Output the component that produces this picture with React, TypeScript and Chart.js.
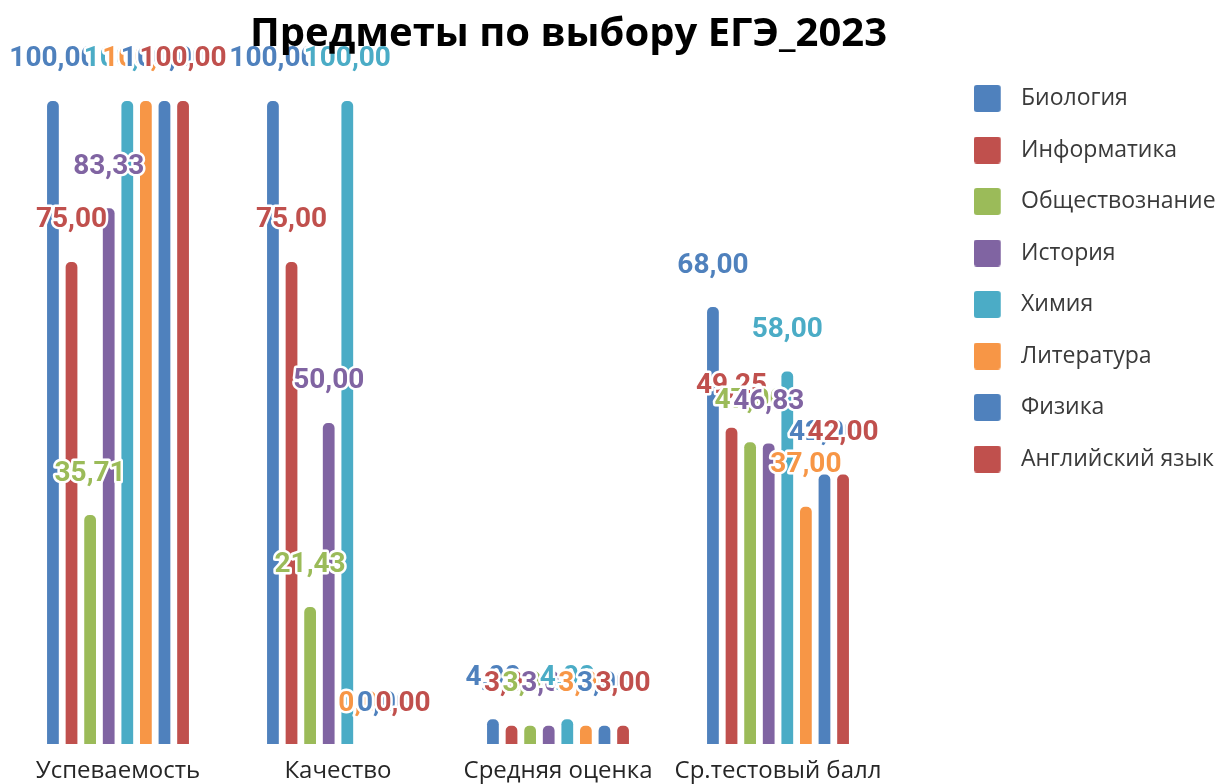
import { useEffect, useRef } from 'react';
import { Chart, registerables } from 'chart.js';

Chart.register(...registerables);

const titleText = 'Предметы по выбору ЕГЭ_2023';
const categories = ['Успеваемость', 'Качество', 'Средняя оценка', 'Ср.тестовый балл'];
const seriesNames = ['Биология', 'Информатика', 'Обществознание', 'История', 'Химия', 'Литература', 'Физика', 'Английский язык'];
const seriesColors = ['#4F81BD', '#C0504D', '#9BBB59', '#8064A2', '#4BACC6', '#F79646', '#4F81BD', '#C0504D'];

const biology = [100, 100, 4, 68];
const informatics = [75, 75, 3, 49.25];
const socialStudies = [35.71, 21.43, 3, 47];
const history = [83.33, 50, 3, 46.83];
const chemistry = [100, 100, 4, 58];
const literature = [100, 0, 3, 37];
const physics = [100, 0, 3, 42];
const english = [100, 0, 3, 42];

const seriesValues = [biology, informatics, socialStudies, history, chemistry, literature, physics, english];

function makeSwatch(color: string) {
  const c = document.createElement('canvas');
  c.width = 36;
  c.height = 27;
  const g = c.getContext('2d')!;
  g.fillStyle = color;
  g.beginPath();
  (g as any).roundRect(0, 0, 27, 27, 3);
  g.fill();
  return c;
}

const fmt = (v: number) => v.toFixed(2).replace('.', ',');

const labelPlugin = {
  id: 'valueLabels',
  afterDatasetsDraw(chart: any) {
    const ctx = chart.ctx;
    ctx.save();
    ctx.font = 'bold 28px Roboto, "Open Sans", sans-serif';
    ctx.textAlign = 'center';
    ctx.textBaseline = 'middle';
    ctx.lineJoin = 'round';
    chart.data.datasets.forEach((ds: any, i: number) => {
      const meta = chart.getDatasetMeta(i);
      meta.data.forEach((el: any, j: number) => {
        const text = fmt(ds.data[j]);
        const y = el.y - 40.5;
        ctx.lineWidth = 5;
        ctx.strokeStyle = '#ffffff';
        ctx.strokeText(text, el.x, y);
        ctx.fillStyle = seriesColors[i];
        ctx.fillText(text, el.x, y);
      });
    });
    ctx.restore();
  },
};

const titlePlugin = {
  id: 'customTitle',
  afterDraw(chart: any) {
    const ctx = chart.ctx;
    ctx.save();
    ctx.font = 'bold 40px "Open Sans", sans-serif';
    ctx.fillStyle = '#000000';
    ctx.textAlign = 'center';
    ctx.textBaseline = 'alphabetic';
    ctx.fillText(titleText, 568.5, 46);
    ctx.restore();
  },
};

export default function App() {
  const ref = useRef<HTMLCanvasElement>(null);
  useEffect(() => {
    document.body.style.margin = '0';
    const canvas = ref.current!;
    const fs = 23;
    const legendFamily = '"Open Sans", sans-serif';
    const m = document.createElement('canvas').getContext('2d')!;
    m.font = `normal normal ${fs}px ${legendFamily}`;
    const maxTW = Math.max(...seriesNames.map((n) => m.measureText(n).width));
    const legendPad = 28.5;
    const boxW = 35.5;
    const W = legendPad + boxW + fs / 2 + maxTW + 10;
    const padRight = 1225 - 945.5 - W;
    const swatches = seriesColors.map(makeSwatch);

    const chart = new Chart(canvas, {
      type: 'bar',
      data: {
        labels: categories,
        datasets: seriesNames.map((name, i) => ({
          label: name,
          data: seriesValues[i],
          backgroundColor: seriesColors[i],
          borderColor: 'rgba(255,255,255,0.7)',
          borderWidth: 1,
          borderRadius: { topLeft: 6, topRight: 6, bottomLeft: 0, bottomRight: 0 },
          borderSkipped: 'bottom',
          categoryPercentage: 0.676,
          barPercentage: 0.74,
        })),
      },
      options: {
        responsive: false,
        animation: false,
        layout: { padding: { left: 8, top: 58.5, right: padRight, bottom: 0 } },
        plugins: {
          title: { display: false },
          tooltip: { enabled: false },
          legend: {
            display: true,
            position: 'right',
            align: 'start',
            labels: {
              usePointStyle: true,
              pointStyleWidth: boxW,
              padding: legendPad,
              color: '#3a3a3a',
              font: { family: legendFamily, size: fs },
              generateLabels: (ch: any) =>
                ch.data.datasets.map((ds: any, i: number) => ({
                  text: ds.label,
                  pointStyle: swatches[i],
                  fillStyle: seriesColors[i],
                  strokeStyle: seriesColors[i],
                  lineWidth: 0,
                  hidden: false,
                  datasetIndex: i,
                  fontColor: '#3a3a3a',
                })),
            },
          },
        },
        scales: {
          x: {
            grid: { display: false, drawTicks: false },
            border: { display: false },
            ticks: {
              color: '#262626',
              padding: 12.5,
              maxRotation: 0,
              autoSkip: false,
              font: { family: '"Open Sans", sans-serif', size: 24 },
            },
            afterFit: (s: any) => {
              s.height = 40;
            },
          },
          y: {
            position: 'right',
            min: 0,
            max: 106.44,
            ticks: { display: false },
            grid: { display: false, drawTicks: false },
            border: { display: false },
            afterFit: (s: any) => {
              s.width = 57.5;
            },
          },
        },
      } as any,
      plugins: [labelPlugin, titlePlugin],
    });
    return () => chart.destroy();
  }, []);

  return (
    <div style={{ width: 1225, height: 784 }}>
      <canvas ref={ref} width={1225} height={784} />
    </div>
  );
}
